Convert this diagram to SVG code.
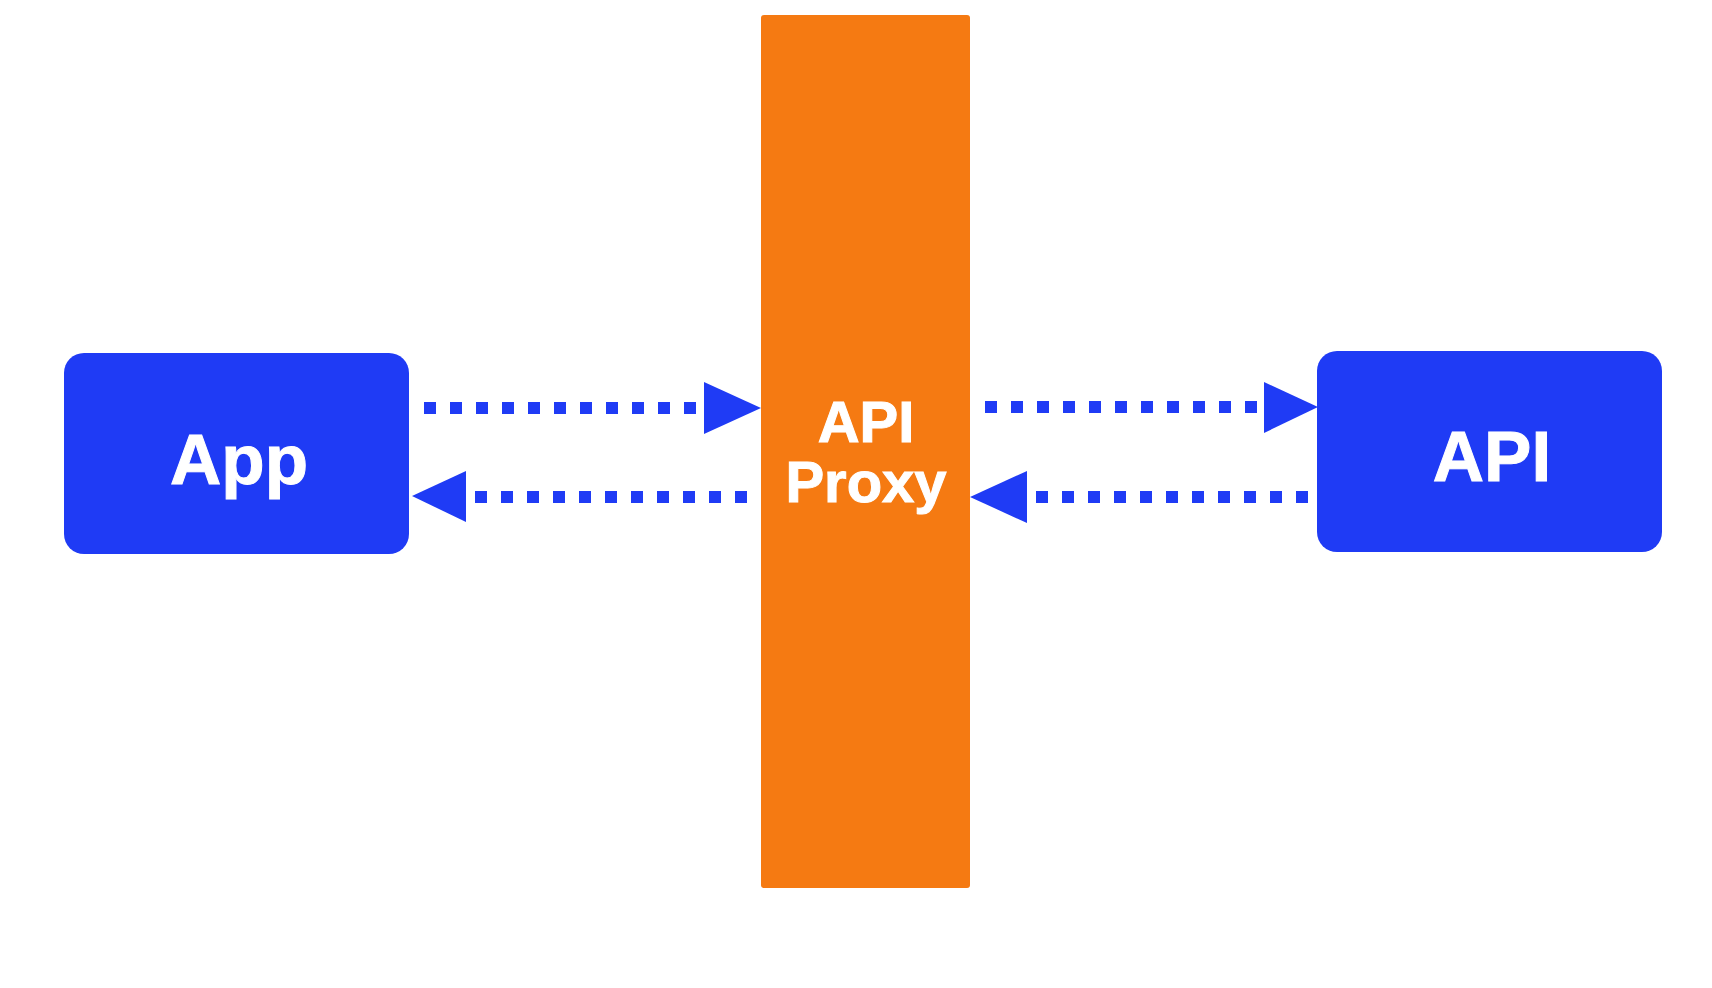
<svg xmlns="http://www.w3.org/2000/svg" width="1712" height="988" viewBox="0 0 1712 988">
<style>
.box{fill:#1f3bf5}
.proxy{fill:#f57a12}
.lbl{font-family:"Liberation Sans",Arial,sans-serif;font-weight:bold;fill:#ffffff;stroke:#ffffff;stroke-width:1;text-anchor:middle}
.dots{stroke:#1f3bf5;stroke-width:12;stroke-dasharray:12 14;fill:none}
.head{fill:#1f3bf5}
</style>
<rect width="1712" height="988" fill="#ffffff"/>
<g id="proxy">
<rect class="proxy" x="761" y="15" width="209" height="873" rx="3"/>
<text class="lbl" x="866" y="442" font-size="58">API</text>
<text class="lbl" x="866" y="502" font-size="58">Proxy</text>
</g>
<g id="app">
<rect class="box" x="64" y="353" width="345" height="201" rx="20"/>
<text class="lbl" x="239" y="484" font-size="71">App</text>
</g>
<g id="api">
<rect class="box" x="1317" y="351" width="345" height="201" rx="20"/>
<text class="lbl" x="1492" y="481" font-size="71">API</text>
</g>
<g id="connectors">
<line class="dots" x1="424" y1="408" x2="696" y2="408"/>
<polygon class="head" points="704,382 761,408 704,434"/>
<line class="dots" x1="747" y1="497" x2="475" y2="497"/>
<polygon class="head" points="466,471 412,496 466,522"/>
<line class="dots" x1="985" y1="407" x2="1257" y2="407"/>
<polygon class="head" points="1264,382 1318,407 1264,433"/>
<line class="dots" x1="1308" y1="497" x2="1036" y2="497"/>
<polygon class="head" points="1027,471 970,497 1027,523"/>
</g>
</svg>
